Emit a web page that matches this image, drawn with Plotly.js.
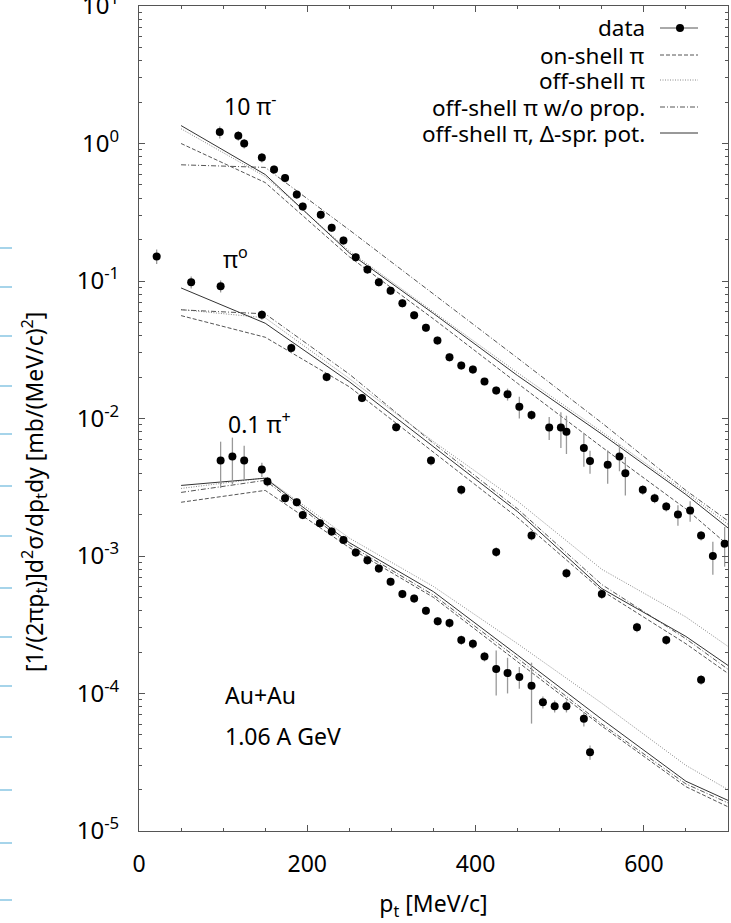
<!DOCTYPE html>
<html>
<head>
<meta charset="utf-8">
<script src="https://cdn.plot.ly/plotly-3.0.1.min.js"></script>
<style>html,body{margin:0;padding:0;background:#fff;}#chart{width:731px;height:923px;}</style>
</head>
<body>
<div id="chart"></div>
<script>
// ---------- data ----------
// 10 x pi-  (scaled by 10)
var piMinusX = [96, 118, 125, 146, 160.5, 173.6, 187.5, 194.6, 216, 229, 243, 257.6, 271.5, 285, 299, 313, 327, 341, 354.7, 369, 383, 396.8, 410.6, 424.5, 438, 452, 466.5, 487.5, 501.4, 508, 528.7, 536, 557, 571, 578, 598.7, 612.8, 626.6, 640.5, 655, 668, 682, 696];
var piMinusY = [1.21, 1.14, 1.0, 0.79, 0.647, 0.56, 0.425, 0.348, 0.303, 0.244, 0.197, 0.149, 0.121, 0.098, 0.085, 0.069, 0.0564, 0.0457, 0.0369, 0.0279, 0.0243, 0.0227, 0.0186, 0.016, 0.015, 0.0122, 0.0106, 0.0086, 0.0086, 0.0080, 0.0061, 0.0049, 0.0046, 0.0053, 0.0040, 0.00303, 0.00263, 0.00229, 0.0020, 0.00214, 0.00141, 0.00100, 0.00123];
var piMinusRelErr = [0.10, 0.08, 0.08, 0.08, 0.07, 0.07, 0.07, 0.07, 0.07, 0.07, 0.07, 0.07, 0.07, 0.07, 0.07, 0.07, 0.07, 0.07, 0.07, 0.07, 0.07, 0.07, 0.06, 0.07, 0.10, 0.18, 0.08, 0.19, 0.29, 0.31, 0.27, 0.19, 0.27, 0.22, 0.31, 0.08, 0.08, 0.08, 0.17, 0.17, 0.08, 0.27, 0.32];

// pi0
var piZeroX = [21, 62, 97, 146, 181, 223, 265, 305.6, 347, 383, 424.5, 466.5, 508, 550, 591.8, 626.6, 668];
var piZeroY = [0.151, 0.098, 0.0917, 0.0568, 0.0325, 0.020, 0.0141, 0.00865, 0.00495, 0.00303, 0.00107, 0.00141, 0.00075, 0.00053, 0.000303, 0.000245, 0.000126];
var piZeroRelErr = [0.12, 0.10, 0.10, 0.08, 0.08, 0.07, 0.07, 0.07, 0.08, 0.08, 0.08, 0.08, 0.08, 0.08, 0.08, 0.08, 0.08];

// 0.1 x pi+
var piPlusX = [97, 111, 125, 146, 152.6, 173.6, 187.5, 194.6, 215, 229, 243, 257.6, 271.5, 285, 299, 313, 327, 341, 355, 369, 383, 396.8, 410.6, 424.5, 438, 452, 466.5, 480, 494, 508, 528.7, 536];
var piPlusY = [0.00495, 0.0053, 0.00495, 0.00426, 0.00348, 0.00263, 0.00246, 0.00199, 0.00173, 0.00151, 0.00131, 0.00106, 0.00093, 0.00081, 0.00065, 0.00053, 0.00049, 0.00040, 0.000336, 0.000325, 0.000245, 0.00023, 0.000186, 0.000151, 0.000141, 0.000132, 0.000114, 8.65e-5, 8.09e-5, 8.09e-5, 6.55e-5, 3.74e-5];
var piPlusRelErr = [0.37, 0.37, 0.28, 0.12, 0.08, 0.07, 0.07, 0.07, 0.07, 0.07, 0.07, 0.07, 0.07, 0.07, 0.07, 0.07, 0.07, 0.07, 0.07, 0.08, 0.08, 0.08, 0.08, 0.36, 0.29, 0.18, 0.47, 0.10, 0.10, 0.10, 0.12, 0.12];

// model curves
var modelX = [50, 150, 250, 350, 450, 550, 650, 700];
var piMinusOnShell   = [1.0, 0.52, 0.15, 0.053, 0.018, 0.0062, 0.0022, 0.0012];
var piMinusOffShell  = [1.28, 0.575, 0.165, 0.06, 0.0215, 0.008, 0.0029, 0.0017];
var piMinusNoProp    = [0.70, 0.67, 0.235, 0.081, 0.0275, 0.0093, 0.0030, 0.0018];
var piMinusDeltaPot  = [1.35, 0.595, 0.16, 0.058, 0.0205, 0.0077, 0.0028, 0.0016];

var piZeroOnShell    = [0.056, 0.039, 0.017, 0.0057, 0.0019, 0.00056, 0.00023, 0.00014];
var piZeroOffShell   = [0.062, 0.054, 0.0195, 0.0068, 0.0025, 0.0008, 0.00036, 0.00022];
var piZeroNoProp     = [0.0617, 0.0577, 0.021, 0.0066, 0.0022, 0.00062, 0.00025, 0.00015];
var piZeroDeltaPot   = [0.089, 0.0493, 0.0185, 0.0062, 0.0021, 0.00058, 0.00026, 0.00016];

var piPlusOnShell    = [0.00246, 0.0030, 0.00115, 0.00050, 0.00017, 0.000058, 0.000021, 0.000015];
var piPlusOffShell   = [0.0031, 0.0037, 0.00135, 0.00060, 0.00023, 0.000085, 0.000030, 0.000020];
var piPlusNoProp     = [0.0029, 0.00355, 0.0012, 0.00052, 0.00018, 0.000060, 0.000022, 0.000016];
var piPlusDeltaPot   = [0.00326, 0.00368, 0.00125, 0.00055, 0.00019, 0.000065, 0.000023, 0.0000167];

var legendLabels = ['data', 'on-shell \u03c0', 'off-shell \u03c0', 'off-shell \u03c0 w/o prop.', 'off-shell \u03c0, \u0394-spr. pot.'];
var yTickVals = [1e-5, 1e-4, 1e-3, 1e-2, 1e-1, 1, 10];
var yTickText = ['10<sup>-5</sup>', '10<sup>-4</sup>', '10<sup>-3</sup>', '10<sup>-2</sup>', '10<sup>-1</sup>', '10<sup>0</sup>', '10<sup>1</sup>'];

// ---------- styles ----------
var FONT = 'Noto Sans, Open Sans, sans-serif';
var styles = {
  on:   {color: '#555', width: 1, dash: '4px,2px'},
  off:  {color: '#888', width: 1, dash: '1px,1.5px'},
  noprop: {color: '#555', width: 1, dash: '5px,2px,1px,2px'},
  pot:  {color: '#333', width: 1, dash: 'solid'}
};

function dataTrace(x, y, rel) {
  var plus = [], minus = [];
  for (var i = 0; i < y.length; i++) { plus.push(y[i] * rel[i]); minus.push(y[i] * rel[i]); }
  return {
    x: x, y: y, type: 'scatter', mode: 'markers', showlegend: false,
    marker: {color: '#000', size: 8},
    error_y: {type: 'data', array: plus, arrayminus: minus, visible: true, color: '#999', thickness: 1.3, width: 0}
  };
}
function lineTrace(y, st) {
  return {x: modelX, y: y, type: 'scatter', mode: 'lines', showlegend: false, line: st, hoverinfo: 'skip'};
}

var traces = [
  lineTrace(piMinusOnShell, styles.on), lineTrace(piMinusOffShell, styles.off), lineTrace(piMinusNoProp, styles.noprop), lineTrace(piMinusDeltaPot, styles.pot),
  lineTrace(piZeroOnShell, styles.on), lineTrace(piZeroOffShell, styles.off), lineTrace(piZeroNoProp, styles.noprop), lineTrace(piZeroDeltaPot, styles.pot),
  lineTrace(piPlusOnShell, styles.on), lineTrace(piPlusOffShell, styles.off), lineTrace(piPlusNoProp, styles.noprop), lineTrace(piPlusDeltaPot, styles.pot),
  dataTrace(piMinusX, piMinusY, piMinusRelErr),
  dataTrace(piZeroX, piZeroY, piZeroRelErr),
  dataTrace(piPlusX, piPlusY, piPlusRelErr)
];

// plot area in pixels
var L = 139, R = 728, T = 6, B = 831, W = 731, H = 923;
function px(xp) { return (xp - L) / (R - L); }
function py(yp) { return (B - yp) / (B - T); }

var minorY = [];
for (var d = -5; d < 1; d++) { for (var k = 2; k <= 9; k++) { minorY.push(k * Math.pow(10, d)); } }

var LBL = {family: FONT, size: 23, color: '#000'};
var annotations = [
  {x: 132, y: Math.log10(1.9), xref: 'x', yref: 'y', text: '10 \u03c0<sup>-</sup>', showarrow: false, font: LBL, xanchor: 'center', yanchor: 'middle'},
  {x: 115, y: Math.log10(0.146), xref: 'x', yref: 'y', text: '\u03c0<sup>o</sup>', showarrow: false, font: LBL, xanchor: 'center', yanchor: 'middle'},
  {x: 143, y: Math.log10(0.0092), xref: 'x', yref: 'y', text: '0.1 \u03c0<sup>+</sup>', showarrow: false, font: LBL, xanchor: 'center', yanchor: 'middle'},
  {x: 100, y: Math.log10(9.8e-5), xref: 'x', yref: 'y', text: 'Au+Au', showarrow: false, font: LBL, xanchor: 'left', yanchor: 'middle'},
  {x: 100, y: Math.log10(4.9e-5), xref: 'x', yref: 'y', text: '1.06 A GeV', showarrow: false, font: LBL, xanchor: 'left', yanchor: 'middle'},
  {x: (34 - L) / (R - L), y: py(492), xref: 'paper', yref: 'paper', text: '[1/(2\u03c0p<sub>t</sub>)]d<sup>2</sup>\u03c3/dp<sub>t</sub>dy [mb/(MeV/c)<sup>2</sup>]', textangle: -90, showarrow: false, font: {family: FONT, size: 23, color: '#000'}, xanchor: 'center', yanchor: 'middle'}
];

var shapes = [];
var legY = [28, 55, 80, 107, 133];
var legStyles = [{color: '#555', width: 1, dash: 'solid'}, styles.on, styles.off, styles.noprop, styles.pot];
for (var i = 0; i < legendLabels.length; i++) {
  annotations.push({x: px(647), y: py(legY[i]), xref: 'paper', yref: 'paper', text: legendLabels[i], showarrow: false,
    font: {family: FONT, size: 22.5, color: '#000'}, xanchor: 'right', yanchor: 'middle'});
  shapes.push({type: 'line', xref: 'paper', yref: 'paper', x0: px(660), x1: px(698), y0: py(legY[i]), y1: py(legY[i]), line: legStyles[i]});
}
shapes.push({type: 'circle', xref: 'paper', yref: 'paper', x0: px(676), x1: px(684), y0: py(legY[0] + 4), y1: py(legY[0] - 4), fillcolor: '#000', line: {width: 0}});

// light blue marks at the far left edge (remnant of a neighbouring panel)
var blueMarks = [248, 287, 336, 386, 434, 486, 536, 588, 637, 686, 737, 790, 843, 900];
for (var j = 0; j < blueMarks.length; j++) {
  shapes.push({type: 'line', xref: 'paper', yref: 'paper', x0: px(0), x1: px(12), y0: py(blueMarks[j]), y1: py(blueMarks[j]), line: {color: '#a6d4ea', width: 2}});
}

var layout = {
  width: W, height: H,
  margin: {l: L, r: W - R, t: T, b: H - B, pad: 0},
  paper_bgcolor: '#fff', plot_bgcolor: '#fff',
  showlegend: false,
  font: {family: FONT, size: 23, color: '#000'},
  xaxis: {
    range: [0, 700], showgrid: false, zeroline: false,
    showline: true, linecolor: '#555', linewidth: 1, mirror: 'allticks',
    ticks: 'inside', ticklen: 6, tickcolor: '#555', tickwidth: 1,
    tickmode: 'array', tickvals: [0, 200, 400, 600], ticktext: ['0', '200', '400', '600'],
    ticklabelstandoff: 12, ticklabeloverflow: 'allow',
    tickfont: {family: FONT, size: 23, color: '#000'},
    minor: {ticks: 'inside', ticklen: 3, tickcolor: '#555', dtick: 50, tick0: 0, showgrid: false},
    title: {text: 'p<sub>t</sub> [MeV/c]', font: {family: FONT, size: 23, color: '#000'}, standoff: 18}
  },
  yaxis: {
    type: 'log', range: [-5, 1], showgrid: false, zeroline: false,
    showline: true, linecolor: '#555', linewidth: 1, mirror: 'allticks',
    ticks: 'inside', ticklen: 6, tickcolor: '#555', tickwidth: 1,
    tickmode: 'array', tickvals: yTickVals, ticktext: yTickText,
    ticklabelstandoff: 14, ticklabeloverflow: 'allow',
    tickfont: {family: FONT, size: 24, color: '#000'},
    minor: {ticks: 'inside', ticklen: 3, tickcolor: '#555', tickmode: 'array', tickvals: minorY, showgrid: false}
  },
  annotations: annotations,
  shapes: shapes
};

Plotly.newPlot('chart', traces, layout, {staticPlot: true, displayModeBar: false});
</script>
</body>
</html>
